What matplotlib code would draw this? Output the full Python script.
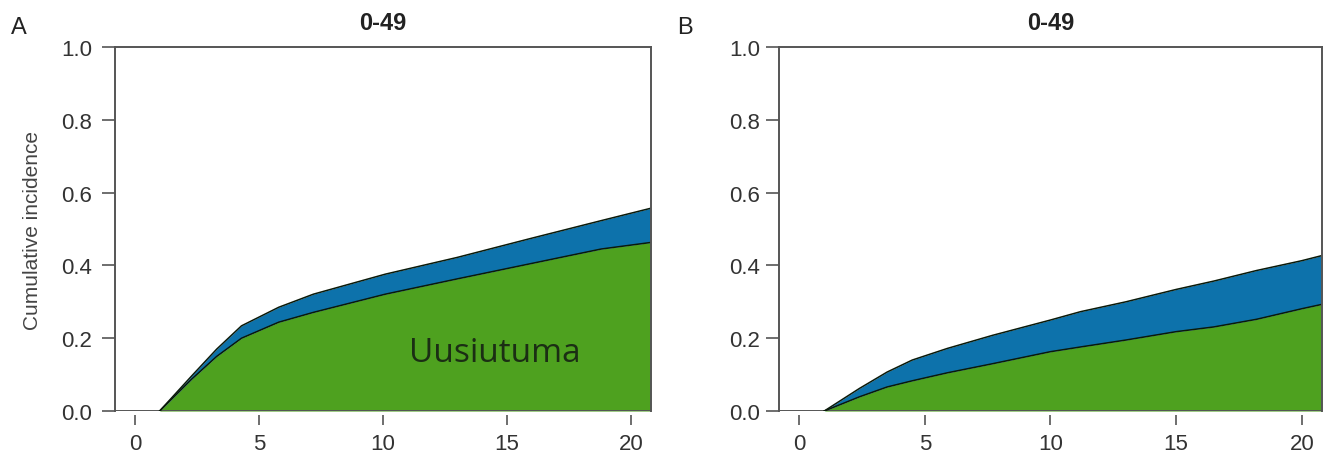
import numpy as np
import matplotlib.pyplot as plt

plt.rcParams["font.family"] = ["Liberation Sans", "DejaVu Sans"]

# years since diagnosis and cumulative incidence
time_a = [1.0, 2.3, 3.3, 4.3, 5.8, 7.2, 10.1, 13.0, 15.9, 18.8, 20.8]
green_a = [0, 0.088, 0.150, 0.200, 0.244, 0.271, 0.321, 0.363, 0.404, 0.445, 0.463]
blue_a = [0, 0.097, 0.170, 0.234, 0.285, 0.321, 0.376, 0.422, 0.473, 0.523, 0.557]

time_b = [1.0, 2.4, 3.5, 4.5, 5.9, 7.7, 10.0, 11.2, 13.0, 15.0, 16.5, 18.2, 20.0, 20.8]
green_b = [0, 0.039, 0.066, 0.083, 0.105, 0.130, 0.163, 0.176, 0.195, 0.218, 0.231, 0.252, 0.281, 0.293]
blue_b = [0, 0.062, 0.107, 0.140, 0.172, 0.208, 0.250, 0.273, 0.300, 0.334, 0.357, 0.386, 0.413, 0.427]

x_ticks = [0, 5, 10, 15, 20]
y_ticks = [0.0, 0.2, 0.4, 0.6, 0.8, 1.0]
title = "0-49"

GREEN = "#4ea11f"
BLUE = "#0d72ab"
GRAY = "#555555"
TEXT = "#333333"


def draw_panel(ax, t, green, blue, ylab_pad):
    t = np.array(t)
    green = np.array(green)
    blue = np.array(blue)
    ax.fill_between(t, 0, green, color=GREEN, lw=0)
    ax.fill_between(t, green, blue, color=BLUE, lw=0)
    ax.plot(t, green, color="#0a1a0a", lw=1.1)
    ax.plot(t, blue, color="#0a1a0a", lw=1.1)

    ax.set_xlim(-0.8, 20.8)
    ax.set_ylim(0, 1)
    ax.set_xticks(x_ticks)
    ax.set_yticks(y_ticks)
    ax.set_yticklabels(["%.1f" % v for v in y_ticks])

    for s in ["left", "top", "right"]:
        ax.spines[s].set_color(GRAY)
        ax.spines[s].set_linewidth(1.4)
    # bottom of the box drawn as a line, x axis ticks sit a little below it
    ax.axhline(0, color=GRAY, lw=1.4, zorder=1)
    ax.spines["bottom"].set_position(("outward", 3))
    ax.spines["bottom"].set_color("none")

    ax.tick_params(axis="y", length=9.5, width=1.2, color=GRAY,
                   labelsize=16, labelcolor=TEXT, pad=ylab_pad)
    ax.tick_params(axis="x", length=7.5, width=1.2, color=GRAY,
                   labelsize=16, labelcolor=TEXT, pad=5)
    ax.set_title(title, fontsize=17, fontweight="bold", color="#222222", pad=13)


fig = plt.figure(figsize=(13.23, 4.64), dpi=100)
ax1 = fig.add_axes([0.0869, 0.112, 0.405, 0.7846])
ax2 = fig.add_axes([0.5888, 0.112, 0.4104, 0.7846])

draw_panel(ax1, time_a, green_a, blue_a, 7)
draw_panel(ax2, time_b, green_b, blue_b, 4)

ax1.set_ylabel("Cumulative incidence", fontsize=15, color="#444444", labelpad=14)
ax1.text(14.5, 0.16, "Uusiutuma", fontsize=24, color="#1b2e14",
         ha="center", va="center", family=["Open Sans", "DejaVu Sans"])

fig.text(0.008, 0.94, "A", fontsize=17, color="#222222", va="center")
fig.text(0.512, 0.94, "B", fontsize=17, color="#222222", va="center")

plt.savefig("out.png", dpi=100)
